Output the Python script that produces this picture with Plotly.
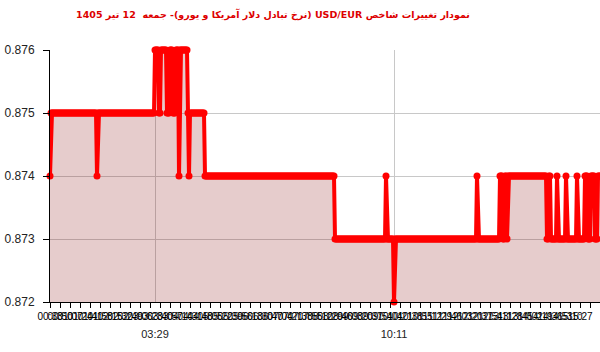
import numpy as np
import plotly.graph_objects as go

# step runs: value and number of points (1 point per pixel column)
run_values = [0.874, 0.875, 0.874, 0.875, 0.876, 0.875, 0.876, 0.875, 0.876, 0.875,
              0.876, 0.874, 0.876, 0.875, 0.874, 0.875, 0.874, 0.873, 0.874, 0.873,
              0.872, 0.873, 0.874, 0.873, 0.874, 0.873, 0.874, 0.873, 0.874, 0.873,
              0.874, 0.873, 0.874, 0.873, 0.874, 0.873, 0.874, 0.873, 0.874, 0.873,
              0.874, 0.873, 0.874]
run_lengths = [1, 46, 1, 57, 4, 2, 6, 3, 3, 3,
               3, 1, 8, 1, 1, 15, 130, 51, 1, 7,
               1, 82, 1, 22, 3, 2, 2, 1, 39, 2,
               2, 6, 1, 8, 1, 10, 1, 7, 3, 3,
               4, 3, 3]

values = np.repeat(run_values, run_lengths)
x_idx = np.arange(len(values))

tick_labels = ["00:33", "00:50", "01:07", "01:24", "01:41", "01:58", "02:15", "02:32",
               "02:49", "03:06", "03:23", "03:40", "03:57", "04:14", "04:31", "04:48",
               "05:05", "05:22", "05:39", "05:56", "06:13", "06:30", "06:47", "07:04",
               "07:21", "07:38", "07:55", "08:12", "08:29", "08:46", "09:03", "09:20",
               "09:37", "09:54", "10:04", "10:21", "10:38", "10:55", "11:12", "11:29",
               "11:46", "12:03", "12:20", "12:37", "12:54", "13:11", "13:28", "13:45",
               "14:02", "14:19", "14:36", "14:53", "15:10", "15:27", "15:44", "16:01"]
tick_pos = list(range(0, 10 * len(tick_labels), 10))

major_pos = [105, 344]
major_labels = ["03:29", "10:11"]

y_ticks = [0.872, 0.873, 0.874, 0.875, 0.876]

title = "\u202bنمودار تغییرات شاخص USD/EUR (نرخ تبادل دلار آمریکا و یورو)- جمعه  12 تیر 1405\u202c"

fig = go.Figure()
fig.add_trace(go.Scatter(
    x=x_idx, y=values, mode="lines+markers",
    line=dict(color="#ff0000", width=4),
    marker=dict(color="#ff0000", size=7),
    fill="tozeroy", fillcolor="rgba(130,0,0,0.2)",
    cliponaxis=False, showlegend=False, hoverinfo="skip",
))
# carrier trace so that the overlaid label axis is drawn
fig.add_trace(go.Scatter(
    x=major_pos, y=[y_ticks[0]] * len(major_pos), xaxis="x2", yaxis="y",
    mode="markers", marker=dict(opacity=0, size=1),
    showlegend=False, hoverinfo="skip",
))

fig.update_layout(
    width=600, height=352,
    margin=dict(l=50, r=0, t=50, b=50),
    paper_bgcolor="white", plot_bgcolor="white",
    title=dict(text=title, x=0.455, xref="container", xanchor="center",
               y=0.957, yref="container", yanchor="middle",
               font=dict(family="DejaVu Sans", size=9.5, color="#dd0000", weight="bold")),
    xaxis=dict(range=[0, len(values) - 1], tickmode="array", tickvals=tick_pos,
               ticktext=tick_labels, ticks="outside", ticklen=5, tickcolor="black",
               showgrid=False, showline=True, linecolor="black", zeroline=False,
               tickangle=0, tickfont=dict(family="Liberation Sans", size=10, color="black")),
    xaxis2=dict(overlaying="x", anchor="y", side="bottom", range=[0, len(values) - 1],
                tickmode="array", tickvals=major_pos, ticktext=major_labels,
                ticks="", showgrid=True, gridcolor="#c8c8c8", gridwidth=1,
                showline=False, zeroline=False, ticklabelstandoff=24,
                tickfont=dict(family="Liberation Sans", size=11, color="#222")),
    yaxis=dict(range=[0.872, 0.876], tickmode="array", tickvals=y_ticks,
               ticktext=[f"{v:.3f}" for v in y_ticks],
               ticks="outside", ticklen=6, tickcolor="black",
               showline=True, linecolor="black", showgrid=True, gridcolor="#c8c8c8",
               zeroline=False, ticklabelstandoff=6,
               tickfont=dict(family="Liberation Sans", size=12, color="#222")),
)

fig.write_html("out.html")
